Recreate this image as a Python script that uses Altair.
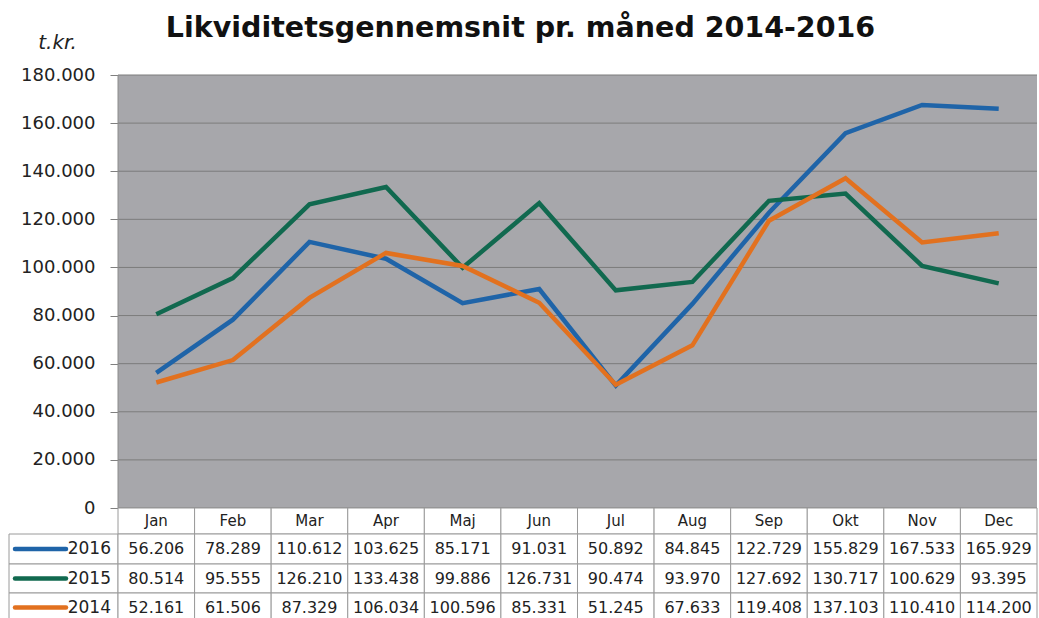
import altair as alt
import pandas as pd

# ---------------- data ----------------
months = ["Jan", "Feb", "Mar", "Apr", "Maj", "Jun", "Jul", "Aug", "Sep", "Okt", "Nov", "Dec"]
series_names = ["2016", "2015", "2014"]
values_2016 = [56206, 78289, 110612, 103625, 85171, 91031, 50892, 84845, 122729, 155829, 167533, 165929]
values_2015 = [80514, 95555, 126210, 133438, 99886, 126731, 90474, 93970, 127692, 130717, 100629, 93395]
values_2014 = [52161, 61506, 87329, 106034, 100596, 85331, 51245, 67633, 119408, 137103, 110410, 114200]
y_ticks = [0, 20000, 40000, 60000, 80000, 100000, 120000, 140000, 160000, 180000]
series_colors = ["#1F64A8", "#11694F", "#E2711F"]

# ---------------- layout helpers ----------------
W = 919          # plot width (px)
H_PLOT = 433     # plot height (px)
H_TABLE = 110    # data table height (px)
Y_MAX = 180000
PER_PX = Y_MAX / H_PLOT
Y_MIN = -H_TABLE * PER_PX
COL_PX = W / 12


def py(px):
    return -px * PER_PX


def px_x(px):
    return px / COL_PX


row_edges = [0, 26, 56, 85, 114]
label_left = px_x(-109)

X_SCALE = alt.Scale(domain=[0, 12], nice=False, zero=False)
Y_SCALE = alt.Scale(domain=[Y_MIN, Y_MAX], nice=False, zero=False)
Y_AX = alt.Axis(
    values=y_ticks,
    labelExpr="replace(format(datum.value, ','), ',', '.')",
    grid=False, domain=False, ticks=True, tickSize=8, tickColor="#808080",
    labelFont="DejaVu Sans", labelFontSize=18, labelColor="#222222", labelPadding=15,
    title="t.kr.", titleAngle=0, titleX=-61, titleY=-27, titleAlign="center",
    titleBaseline="alphabetic", titleFont="DejaVu Sans", titleFontSize=20,
    titleFontStyle="italic", titleFontWeight="normal", titleColor="#222222",
)


def X(f):
    return alt.X(f, type="quantitative", scale=X_SCALE, axis=None)


def Y(f):
    return alt.Y(f, type="quantitative", scale=Y_SCALE, axis=Y_AX)


# ---------------- tables ----------------
all_values = {"2016": values_2016, "2015": values_2015, "2014": values_2014}

line_rows = []
for name in series_names:
    for i, m in enumerate(months):
        line_rows.append({"series": name, "xm": i + 0.5, "v": all_values[name][i]})
line_df = pd.DataFrame(line_rows)

bg_df = pd.DataFrame([{"x0": 0, "x1": 12, "y0": 0, "y1": Y_MAX}])
grid_df = pd.DataFrame([{"x0": 0, "x1": 12, "v": t} for t in y_ticks])

cells, texts, legend_lines, year_texts = [], [], [], []
for i, m in enumerate(months):
    cells.append({"x0": i, "x1": i + 1, "y0": py(row_edges[0]), "y1": py(row_edges[1])})
    texts.append({"xc": i + 0.5, "yc": py((row_edges[0] + row_edges[1]) / 2), "t": m, "kind": "hdr"})
for r, name in enumerate(series_names):
    top, bot = row_edges[r + 1], row_edges[r + 2]
    mid = py((top + bot) / 2)
    cells.append({"x0": label_left, "x1": 0, "y0": py(top), "y1": py(bot)})
    legend_lines.append({"series": name, "xa": px_x(-103), "xb": px_x(-52), "yc": mid})
    year_texts.append({"series": name, "xc": px_x(-7), "yc": mid, "t": name})
    for i, v in enumerate(all_values[name]):
        cells.append({"x0": i, "x1": i + 1, "y0": py(top), "y1": py(bot)})
        texts.append({"xc": i + 0.5, "yc": mid, "t": f"{v:,}".replace(",", "."), "kind": "val"})

cells_df = pd.DataFrame(cells)
texts_df = pd.DataFrame(texts)
leg_df = pd.DataFrame(legend_lines)
year_df = pd.DataFrame(year_texts)

COLOR = alt.Color("series:N", scale=alt.Scale(domain=series_names, range=series_colors), legend=None)

# ---------------- layers ----------------
bg = alt.Chart(bg_df).mark_rect(color="#A7A7AB").encode(x=X("x0"), x2="x1", y=Y("y0"), y2="y1")
grid = alt.Chart(grid_df).mark_rule(color="#7C7C7C", strokeWidth=1).encode(x=X("x0"), x2="x1", y=Y("v"))
left_edge = alt.Chart(bg_df).mark_rule(color="#8C8C8C", strokeWidth=1).encode(x=X("x0"), y=Y("y0"), y2="y1")

line_layers = []
for name in series_names:
    line_layers.append(
        alt.Chart(line_df).transform_filter(alt.datum.series == name)
        .mark_line(strokeWidth=4.5)
        .encode(x=X("xm"), y=Y("v"), color=COLOR)
    )

cell_layer = alt.Chart(cells_df).mark_rect(fill="white", stroke="#9A9A9A", strokeWidth=1).encode(
    x=X("x0"), x2="x1", y=Y("y0"), y2="y1")
hdr_text = alt.Chart(texts_df).transform_filter(alt.datum.kind == "hdr").mark_text(
    font="DejaVu Sans", fontSize=15, color="#222222", baseline="middle", align="center").encode(
    x=X("xc"), y=Y("yc"), text="t:N")
val_text = alt.Chart(texts_df).transform_filter(alt.datum.kind == "val").mark_text(
    font="DejaVu Sans", fontSize=16, color="#222222", baseline="middle", align="center").encode(
    x=X("xc"), y=Y("yc"), text="t:N")
leg_layer = alt.Chart(leg_df).mark_rule(strokeWidth=4.5, strokeCap="round").encode(
    x=X("xa"), x2="xb", y=Y("yc"), color=COLOR)
year_layer = alt.Chart(year_df).mark_text(
    font="DejaVu Sans", fontSize=17, color="#222222", baseline="middle", align="right").encode(
    x=X("xc"), y=Y("yc"), text="t:N")

chart = alt.layer(
    bg, grid, left_edge, *line_layers, cell_layer, hdr_text, val_text, leg_layer, year_layer
).properties(
    width=W,
    height=H_PLOT + H_TABLE,
    autosize="none",
    padding={"left": 118, "top": 75, "right": 2, "bottom": 0},
    title=alt.TitleParams(
        text="Likviditetsgennemsnit  pr. måned 2014-2016",
        font="DejaVu Sans", fontSize=28.5, fontWeight="bold", color="#111111",
        anchor="middle", frame="group", dx=-57, offset=0, dy=33, baseline="alphabetic",
    ),
).configure_view(stroke=None)

chart.save("out.html", embed_options={"renderer": "svg", "actions": False})
